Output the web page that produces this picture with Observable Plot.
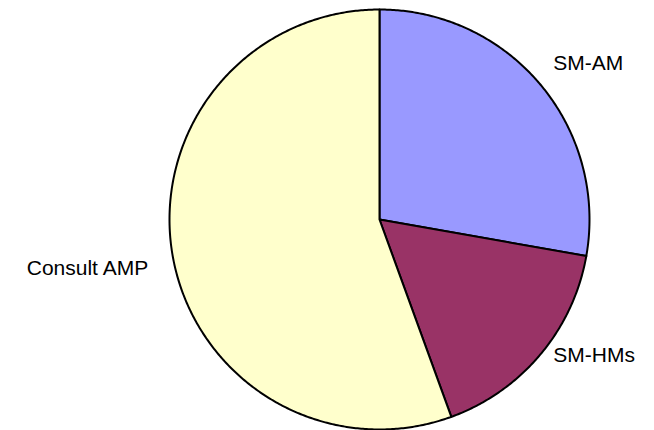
<!DOCTYPE html>
<html><head>
<meta charset="utf-8">
<script src="https://cdn.jsdelivr.net/npm/d3@7"></script>
<script src="https://cdn.jsdelivr.net/npm/@observablehq/plot@0.6"></script>
<style>html,body{margin:0;padding:0;background:#fff}</style>
</head><body><div id="chart"></div>
<script>
const categories = ["SM-AM", "SM-HMs", "Consult AMP"];
const values = [5, 3, 10];
const colors = ["#9999FF", "#993366", "#FFFFCC"];

const arcs = d3.pie().sort(null).value(d => d.value)(categories.map((c, i) => ({cat: c, value: values[i]})));

const pts = [];
for (const a of arcs) {
  pts.push({cat: a.data.cat, x: 0, y: 0});
  const n = Math.max(2, Math.ceil((a.endAngle - a.startAngle) / (Math.PI / 360)));
  for (let k = 0; k <= n; k++) {
    const t = a.startAngle + (a.endAngle - a.startAngle) * k / n;
    pts.push({cat: a.data.cat, x: Math.sin(t), y: Math.cos(t)});
  }
}
const R = 1.08;
const labels = arcs.map(a => {
  const m = (a.startAngle + a.endAngle) / 2;
  return {cat: a.data.cat, x: R * Math.sin(m), y: R * Math.cos(m), right: Math.sin(m) >= 0};
});

const chart = Plot.plot({
  width: 654, height: 430, margin: 0,
  x: {domain: [-1, 1], range: [169, 589], axis: null},
  y: {domain: [-1, 1], range: [429, 9], axis: null},
  color: {domain: categories, range: colors},
  style: {fontFamily: "'Liberation Sans', Arial, sans-serif", background: "#fff"},
  marks: [
    Plot.line(pts, {x: "x", y: "y", z: "cat", fill: "cat", stroke: "black", strokeWidth: 2, curve: "linear-closed", strokeLinejoin: "round"}),
    Plot.text(labels.filter(d => d.right), {x: "x", y: "y", text: "cat", textAnchor: "start", fontSize: 21, fill: "black", dy: -10}),
    Plot.text(labels.filter(d => !d.right), {x: "x", y: "y", text: "cat", textAnchor: "end", fontSize: 21, fill: "black", dx: -8, dy: 9})
  ]
});
document.getElementById("chart").appendChild(chart);
</script>
</body></html>
